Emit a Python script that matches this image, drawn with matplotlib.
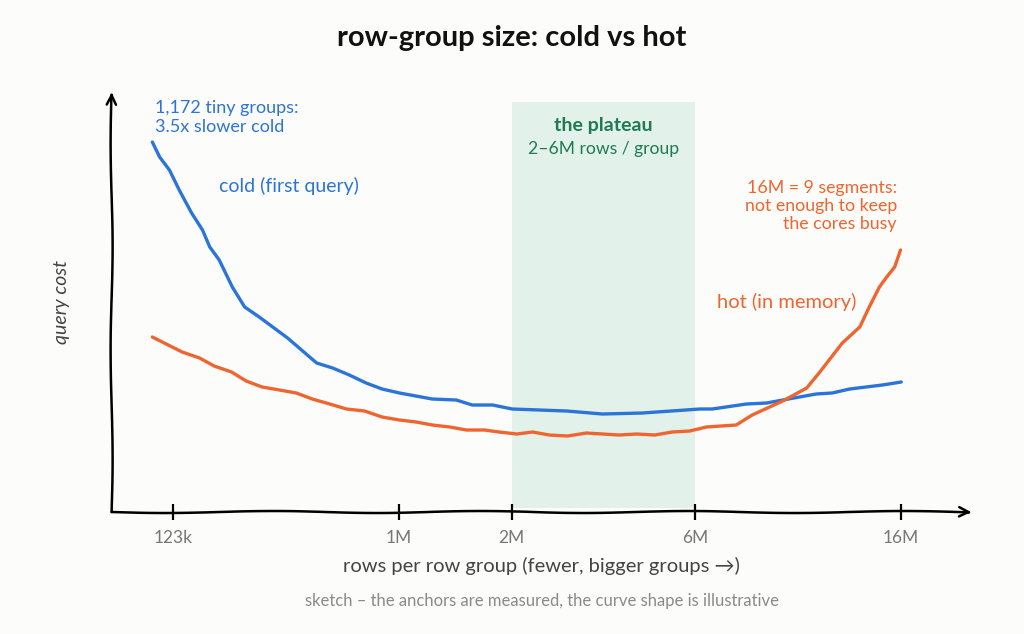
import matplotlib
matplotlib.use("Agg")
import matplotlib.pyplot as plt

# x is position along the sketch axis (123k -> 0, 16M -> 100), y is relative cost
tick_pos = [0, 31, 46.5, 71.8, 100]
tick_labels = ["123k", "1M", "2M", "6M", "16M"]

cold_x = [-2.9, -1.9, -0.55, 0.8, 2.5, 4.0, 5.0, 6.3, 8.1, 9.8, 11.8, 15.7, 19.7,
          21.9, 24.2, 26.5, 28.7, 31.1, 35.6, 38.9, 41.1, 43.9, 46.6, 54.1, 59.0,
          64.5, 72.4, 74.1, 78.8, 81.6, 83.8, 88.4, 90.6, 93.0, 97.5, 100.1]
cold_y = [92.5, 88.75, 85.5, 80.5, 74.75, 70.5, 66.25, 63, 56.25, 51.25, 48.75, 43.5,
          37.25, 36, 34.25, 32.25, 30.75, 29.75, 28.25, 28, 26.75, 26.75, 25.75, 25.25,
          24.5, 24.75, 25.75, 25.75, 27, 27.25, 28, 29.5, 29.75, 30.75, 31.75, 32.5]

hot_x = [-2.9, 1.2, 3.6, 5.6, 8.0, 10.0, 12.2, 14.6, 16.9, 19.1, 21.5, 23.8, 26.3,
         28.7, 31.1, 33.4, 35.6, 38.0, 40.3, 42.8, 44.8, 47.2, 49.4, 51.7, 54.2, 56.8,
         61.3, 63.7, 66.2, 68.6, 71.0, 73.3, 77.4, 79.6, 83.8, 87.1, 88.9, 92.0, 94.4,
         95.7, 97.1, 98.1, 99.2, 100]
hot_y = [43.75, 40, 38.5, 36.5, 35, 32.75, 31.25, 30.5, 29.75, 28.25, 27, 25.75, 25.25,
         23.75, 23, 22.5, 21.75, 21.25, 20.5, 20.5, 20, 19.5, 20, 19.25, 19, 19.75,
         19.25, 19.5, 19.25, 20, 20.25, 21.25, 21.75, 24.25, 27.75, 31, 35, 42.25, 46.25,
         51.25, 56.25, 58.75, 61.25, 65.5]

plateau = (46.5, 71.8)

BLUE = "#2b74d8"
ORANGE = "#ef6530"
GREEN = "#1f7a55"
BG = "#fcfcfa"

plt.rcParams["font.family"] = ["Lato", "DejaVu Sans"]

fig = plt.figure(figsize=(10.24, 6.34), dpi=100, facecolor=BG)
ax = fig.add_axes([0.109, 0.1924, 0.84, 0.6625])
ax.set_facecolor(BG)
ax.set_xlim(-8.5, 109.8)
ax.set_ylim(0, 105)

for s in ax.spines.values():
    s.set_visible(False)

# plateau band
ax.fill_between(plateau, 1, 102.5, color="#e2f2ea", lw=0, zorder=0)
ax.text(sum(plateau) / 2, 96.5, "the plateau", color=GREEN, fontsize=14,
        fontweight="bold", ha="center", va="center")
ax.text(sum(plateau) / 2, 90.8, "2–6M rows / group", color=GREEN, fontsize=12.6,
        ha="center", va="center")

# curves
ax.plot(cold_x, cold_y, color=BLUE, lw=2.4, solid_capstyle="round", zorder=3)
ax.plot(hot_x, hot_y, color=ORANGE, lw=2.4, solid_capstyle="round", zorder=3)

# hand drawn axes
for xy, xytext in [((109.8, 0), (-8.5, 0)), ((-8.5, 105), (-8.5, 0))]:
    a = ax.annotate("", xy=xy, xytext=xytext, annotation_clip=False,
                    arrowprops=dict(arrowstyle="->,head_length=0.7,head_width=0.35",
                                    color="black", lw=1.8, shrinkA=0, shrinkB=0))
    a.arrow_patch.set_sketch_params(1.0, 220, 1.5)

ax.set_xticks(tick_pos)
ax.set_xticklabels(tick_labels)
ax.set_yticks([])
ax.tick_params(axis="x", direction="inout", length=12, width=1.6, color="black",
               pad=7, labelsize=12.5, labelcolor="#777777")

ax.set_xlabel("rows per row group (fewer, bigger groups →)", fontsize=14.5,
              color="#444444", labelpad=8)
ax.set_ylabel("query cost", fontsize=14, color="#444444", style="italic", labelpad=30)

# annotations
ax.text(-2.5, 103, "1,172 tiny groups:\n3.5x slower cold", color=BLUE, fontsize=13,
        ha="left", va="top", linespacing=1.2)
ax.text(6.3, 81.5, "cold (first query)", color=BLUE, fontsize=14, ha="left",
        va="center")
ax.text(99.5, 83, "16M = 9 segments:\nnot enough to keep\nthe cores busy", color=ORANGE,
        fontsize=12.8, ha="right", va="top", linespacing=1.15)
ax.text(74.8, 52.5, "hot (in memory)", color=ORANGE, fontsize=14.5, ha="left",
        va="center")

fig.text(0.5, 0.94, "row-group size: cold vs hot", fontsize=21, fontweight="bold",
         ha="center", va="center", color="#111111")
fig.text(0.529, 0.052, "sketch – the anchors are measured, the curve shape is illustrative",
         fontsize=12, color="#8a8a8a", ha="center", va="center")

fig.savefig("out.png", dpi=100, facecolor=BG)
